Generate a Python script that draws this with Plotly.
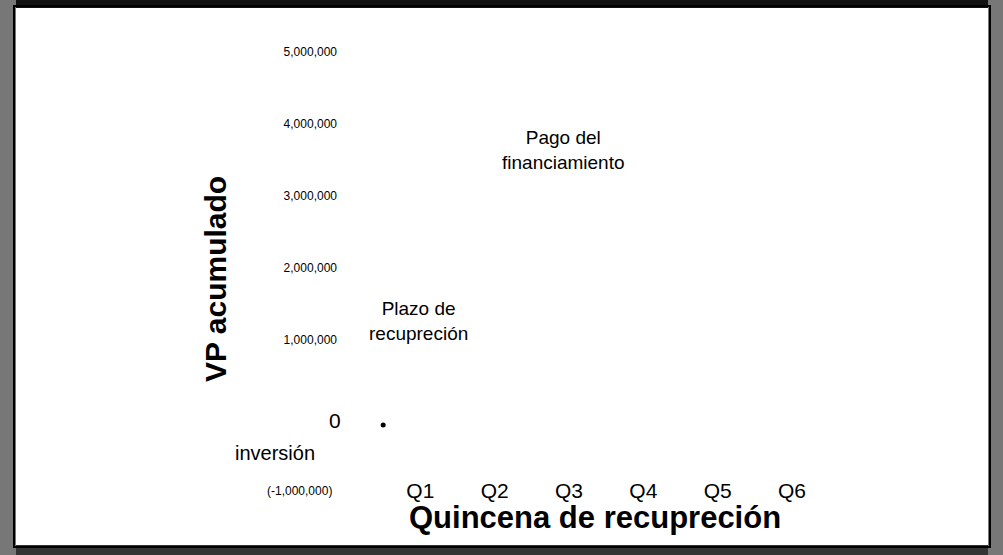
import plotly.graph_objects as go

# data
quincenas = ["Q1", "Q2", "Q3", "Q4", "Q5", "Q6"]
quincena_pos = [1, 2, 3, 4, 5, 6]
y_tick_vals = [1000000, 2000000, 3000000, 4000000, 5000000]
y_tick_text = ["1,000,000", "2,000,000", "3,000,000", "4,000,000", "5,000,000"]
zero_label = "0"
inversion_label = "(-1,000,000)"
point_x = [0.5]
point_y = [-180000]

FONT = "Liberation Sans, Arial, sans-serif"

# plot area in pixels (used only to place frame / outside labels)
L, R, T, B = 346, 844, 40, 476
W, H = 1003, 555


def px(x):
    return (x - L) / (R - L)


def py(y):
    return (B - y) / (B - T)


fig = go.Figure()

fig.add_trace(go.Scatter(
    x=point_x, y=point_y,
    mode="markers",
    marker=dict(size=5, color="black"),
    showlegend=False,
    hoverinfo="skip",
))

fig.update_layout(
    width=W,
    height=H,
    margin=dict(l=L, r=W - R, t=T, b=H - B),
    paper_bgcolor="white",
    plot_bgcolor="white",
    font=dict(family=FONT, color="black"),
    showlegend=False,
    xaxis=dict(
        range=[0, 6.70],
        tickvals=quincena_pos,
        ticktext=quincenas,
        tickfont=dict(size=21),
        showgrid=False, zeroline=False, showline=False,
        ticks="",
    ),
    yaxis=dict(
        range=[-888900, 5166700],
        tickvals=y_tick_vals,
        ticktext=y_tick_text,
        tickfont=dict(size=12),
        ticklabelstandoff=8,
        showgrid=False, zeroline=False, showline=False,
        ticks="",
    ),
)

ann = dict(showarrow=False, xanchor="center", yanchor="middle")

# labels inside the chart
fig.add_annotation(x=2.92, y=3640000, text="Pago del<br>financiamiento",
                   font=dict(size=19), **ann)
fig.add_annotation(x=0.97, y=1260000, text="Plazo de<br>recupreción",
                   font=dict(size=19), **ann)

# zero and negative labels left of the axis
fig.add_annotation(xref="paper", x=px(343), y=0, yshift=-8, text=zero_label,
                   font=dict(size=21), showarrow=False,
                   xanchor="right", yanchor="middle")
fig.add_annotation(xref="paper", yref="paper", x=px(275), y=py(453),
                   text="inversión", font=dict(size=20), **ann)
fig.add_annotation(xref="paper", yref="paper", x=px(299), y=py(491),
                   text=inversion_label, font=dict(size=12), **ann)

# axis titles
fig.add_annotation(xref="paper", yref="paper", x=px(215), y=py(279),
                   text="<b>VP acumulado</b>", textangle=-90,
                   font=dict(size=30), **ann)
fig.add_annotation(x=3.35, yref="paper", y=py(517),
                   text="<b>Quincena de recupreción</b>",
                   font=dict(size=31), **ann)

# scanned page frame
frame = [
    (0, 0, W, 8, "#111111"),
    (0, 545, W, H, "#333333"),
    (0, 0, 16, H, "#777777"),
    (988, 0, W, H, "#777777"),
]
for x0, y0, x1, y1, col in frame:
    fig.add_shape(type="rect", xref="paper", yref="paper",
                  x0=px(x0), x1=px(x1), y0=py(y0), y1=py(y1),
                  fillcolor=col, line=dict(width=0), layer="above")
fig.add_shape(type="rect", xref="paper", yref="paper",
              x0=px(14), x1=px(990), y0=py(6), y1=py(547),
              line=dict(color="black", width=2), layer="above")

fig.write_html("out.html", config={"displayModeBar": False},
               post_script="document.body.style.margin='0';")
